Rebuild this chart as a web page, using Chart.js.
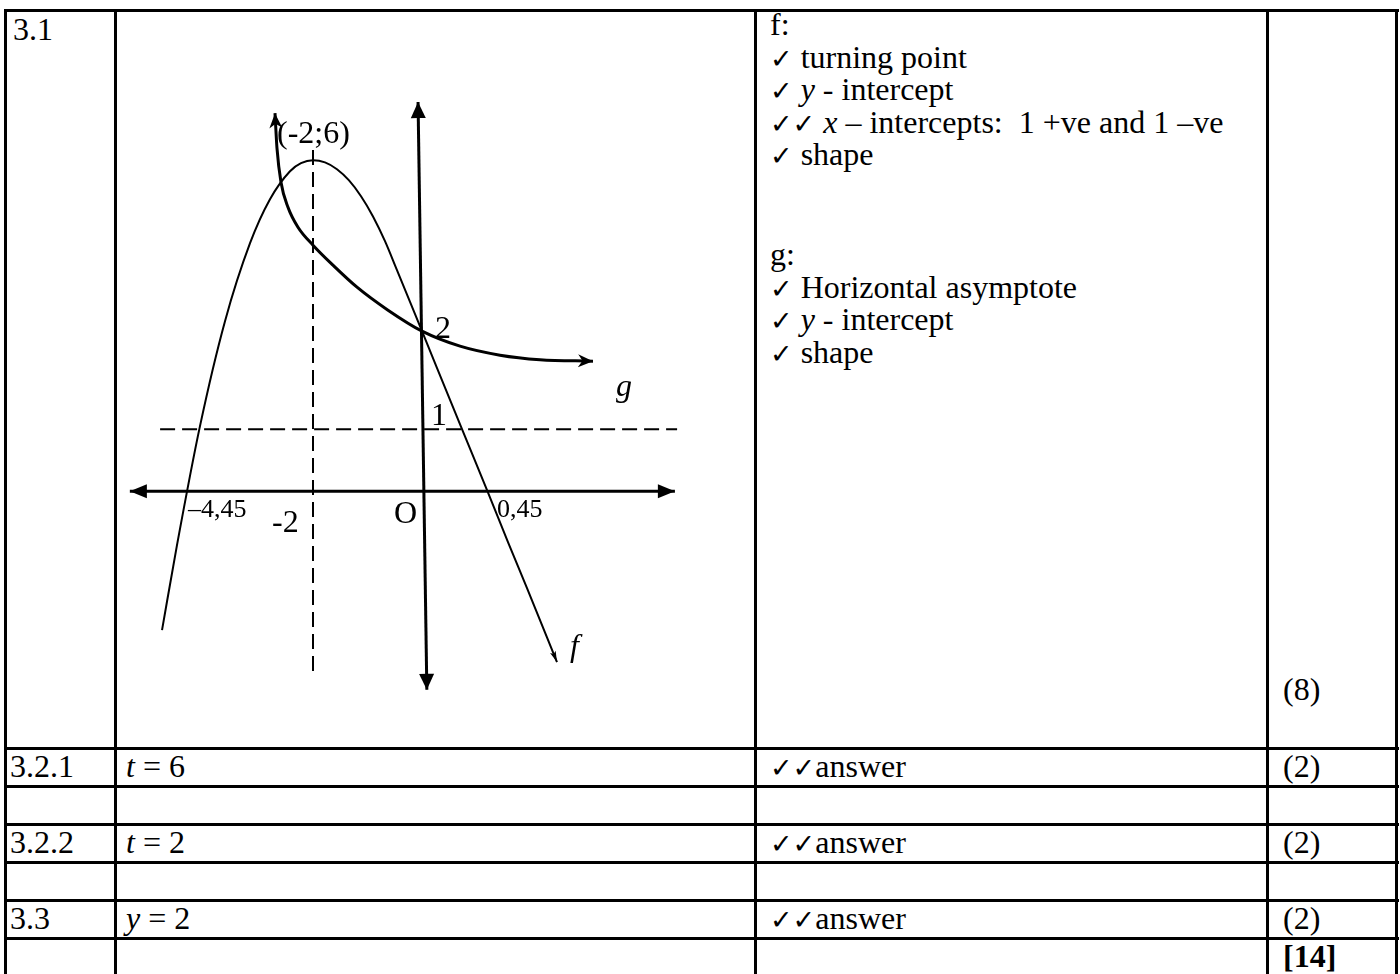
<!DOCTYPE html>
<html>
<head>
<meta charset="utf-8">
<script src="https://cdn.jsdelivr.net/npm/chart.js@4.4.0/dist/chart.umd.min.js"></script>
<style>
    html, body { margin: 0; padding: 0; background: #fff; }
    body {
        width: 1400px; height: 974px; position: relative; overflow: hidden;
        font-family: "Liberation Serif", "Times New Roman", serif; font-size: 32px; color: #000;
    }
    .h { position: absolute; left: 4px; width: 1395px; height: 3px; background: #000; }
    .v { position: absolute; top: 9px; width: 3px; height: 970px; background: #000; }
    .t { position: absolute; line-height: 37px; white-space: pre; }
    .list { position: absolute; left: 770px; line-height: 32.5px; white-space: pre; }
    .ck { font-family: "DejaVu Sans", sans-serif; font-size: 27px; line-height: 1; }
    #sketch { position: absolute; left: 115px; top: 11px; }
</style>
</head>
<body>
<!-- table grid -->
<div class="h" style="top:9px"></div>
<div class="h" style="top:747px"></div>
<div class="h" style="top:785px"></div>
<div class="h" style="top:823px"></div>
<div class="h" style="top:861px"></div>
<div class="h" style="top:899px"></div>
<div class="h" style="top:937px"></div>
<div class="v" style="left:4px"></div>
<div class="v" style="left:114px"></div>
<div class="v" style="left:754px"></div>
<div class="v" style="left:1266px"></div>
<div class="v" style="left:1395px"></div>

<!-- row 3.1 -->
<div class="t" style="left:13px;top:11px">3.1</div>
<div class="list" style="top:8px">f:
<span class="ck">✓</span> turning point
<span class="ck">✓</span> <i>y</i> - intercept
<span class="ck">✓✓</span> <i>x</i> – intercepts:  1 +ve and 1 –ve
<span class="ck">✓</span> shape</div>
<div class="list" style="top:238px">g:
<span class="ck">✓</span> Horizontal asymptote
<span class="ck">✓</span> <i>y</i> - intercept
<span class="ck">✓</span> shape</div>
<div class="t" style="left:1283px;top:671px">(8)</div>

<!-- lower rows -->
<div class="t" style="left:10px;top:748px">3.2.1</div>
<div class="t" style="left:126px;top:748px"><i>t</i> = 6</div>
<div class="t" style="left:770px;top:748px"><span class="ck">✓✓</span>answer</div>
<div class="t" style="left:1283px;top:748px">(2)</div>

<div class="t" style="left:10px;top:824px">3.2.2</div>
<div class="t" style="left:126px;top:824px"><i>t</i> = 2</div>
<div class="t" style="left:770px;top:824px"><span class="ck">✓✓</span>answer</div>
<div class="t" style="left:1283px;top:824px">(2)</div>

<div class="t" style="left:10px;top:900px">3.3</div>
<div class="t" style="left:126px;top:900px"><i>y</i> = 2</div>
<div class="t" style="left:770px;top:900px"><span class="ck">✓✓</span>answer</div>
<div class="t" style="left:1283px;top:900px">(2)</div>

<div class="t" style="left:1283px;top:938px"><b>[14]</b></div>

<canvas id="sketch" width="638" height="734"></canvas>

<script>
// sketch values (not to scale, like the original)
const xAxisPts = [{ x: -5.33, y: 0 }, { x: 4.58, y: 0 }];
const yAxisPts = [{ x: -0.09, y: 7.05 }, { x: 0.07, y: -3.6 }];
const asymptotePts = [{ x: -4.78, y: 1.12 }, { x: 4.62, y: 1.12 }];
const symmetryPts = [{ x: -2, y: 6.18 }, { x: -2, y: -3.28 }];

// f: parabola, turning point (-2;6)
const fX = [-4.745, -4.473, -4.055, -3.6, -3.145, -2.782, -2.418, -2.218, -2.0, -1.782, -1.564, -1.345, -1.127, -0.909, -0.691, -0.473, -0.236, -0.018, 0.709, 1.164, 1.545, 1.891, 2.436];
const fY = [-2.518, -0.978, 1.178, 3.08, 4.493, 5.29, 5.797, 5.942, 5.996, 5.957, 5.833, 5.63, 5.344, 4.978, 4.529, 4.004, 3.431, 2.899, 1.123, 0.018, -0.924, -1.757, -3.098];

// g: exponential, asymptote y = 1, y-intercept 2
const gX = [-2.691, -2.655, -2.582, -2.455, -2.273, -2.0, -1.636, -1.2, -0.636, -0.018, 0.673, 1.4, 2.127, 3.091];
const gY = [6.848, 6.214, 5.598, 5.145, 4.783, 4.457, 4.094, 3.696, 3.279, 2.899, 2.627, 2.464, 2.382, 2.355];

const labelText = ['(-2;6)', '2', '1', 'g', '0,45', '–4,45', '-2', 'O', 'f'];
const labelX = [-2.655, 0.218, 0.145, 3.509, 1.345, -4.273, -2.745, -0.527, 2.673];
const labelY = [6.304, 2.772, 1.196, 1.721, -0.471, -0.471, -0.743, -0.58, -2.989];

const toPts = (xs, ys) => xs.map((x, i) => ({ x: x, y: ys[i] }));

function drawHead(ctx, tx, ty, fx, fy, len, half, notch) {
    const ang = Math.atan2(ty - fy, tx - fx);
    ctx.save();
    ctx.translate(tx, ty);
    ctx.rotate(ang);
    ctx.beginPath();
    ctx.moveTo(0, 0);
    ctx.lineTo(-len, half);
    ctx.lineTo(-len * (1 - notch), 0);
    ctx.lineTo(-len, -half);
    ctx.closePath();
    ctx.fillStyle = '#000';
    ctx.fill();
    ctx.restore();
}

// arrow heads at the ends of the axes and curves
const arrowPlugin = {
    id: 'arrows',
    afterDatasetsDraw(chart) {
        const ctx = chart.ctx;
        chart.data.datasets.forEach((ds, i) => {
            if (!ds.arrows) return;
            const pts = chart.getDatasetMeta(i).data;
            const n = pts.length;
            const h = ds.head;
            if (ds.arrows.includes('start')) {
                const p = pts[0];
                let fx = p.cp2x, fy = p.cp2y;
                if (fx === undefined || (Math.abs(fx - p.x) < 0.5 && Math.abs(fy - p.y) < 0.5)) { fx = pts[1].x; fy = pts[1].y; }
                drawHead(ctx, p.x, p.y, fx, fy, h[0], h[1], h[2]);
            }
            if (ds.arrows.includes('end')) {
                const p = pts[n - 1];
                let fx = p.cp1x, fy = p.cp1y;
                if (fx === undefined || (Math.abs(fx - p.x) < 0.5 && Math.abs(fy - p.y) < 0.5)) { fx = pts[n - 2].x; fy = pts[n - 2].y; }
                drawHead(ctx, p.x, p.y, fx, fy, h[0], h[1], h[2]);
            }
        });
    }
};

// text labels of the sketch
const labelPlugin = {
    id: 'sketchLabels',
    afterDatasetsDraw(chart) {
        const ctx = chart.ctx;
        const xs = chart.scales.x, ys = chart.scales.y;
        ctx.save();
        ctx.fillStyle = '#000';
        ctx.textAlign = 'left';
        ctx.textBaseline = 'alphabetic';
        labelText.forEach((txt, i) => {
            let font = '32px "Liberation Serif"';
            if (txt === 'f' || txt === 'g') font = 'italic 32px "Liberation Serif"';
            if (txt === '0,45' || txt === '–4,45') font = '26px "Liberation Serif"';
            ctx.font = font;
            ctx.fillText(txt, xs.getPixelForValue(labelX[i]), ys.getPixelForValue(labelY[i]));
        });
        ctx.restore();
    }
};

document.addEventListener('DOMContentLoaded', () => {
    const base = { showLine: true, borderColor: '#000', backgroundColor: '#000', pointRadius: 0, fill: false, clip: false };
    new Chart(document.getElementById('sketch'), {
        type: 'scatter',
        data: {
            datasets: [
                { ...base, data: xAxisPts, borderWidth: 3, arrows: ['start', 'end'], head: [17, 7, 0] },
                { ...base, data: yAxisPts, borderWidth: 3, arrows: ['start', 'end'], head: [16, 7.5, 0] },
                { ...base, data: asymptotePts, borderWidth: 2, borderDash: [15, 7] },
                { ...base, data: symmetryPts, borderWidth: 2, borderDash: [15, 7] },
                { ...base, data: toPts(fX, fY), borderWidth: 2, cubicInterpolationMode: 'monotone', arrows: ['end'], head: [11, 3, 0.2] },
                { ...base, data: toPts(gX, gY), borderWidth: 3, cubicInterpolationMode: 'monotone', arrows: ['start', 'end'], head: [15, 6.5, 0.3] }
            ]
        },
        options: {
            responsive: false,
            animation: false,
            devicePixelRatio: 1,
            layout: { padding: 0 },
            plugins: { legend: { display: false }, tooltip: { enabled: false } },
            scales: {
                x: { type: 'linear', min: -5.6, max: 6, display: false },
                y: { type: 'linear', min: -4.6, max: 8.7, display: false }
            }
        },
        plugins: [arrowPlugin, labelPlugin]
    });
});
</script>
</body>
</html>
